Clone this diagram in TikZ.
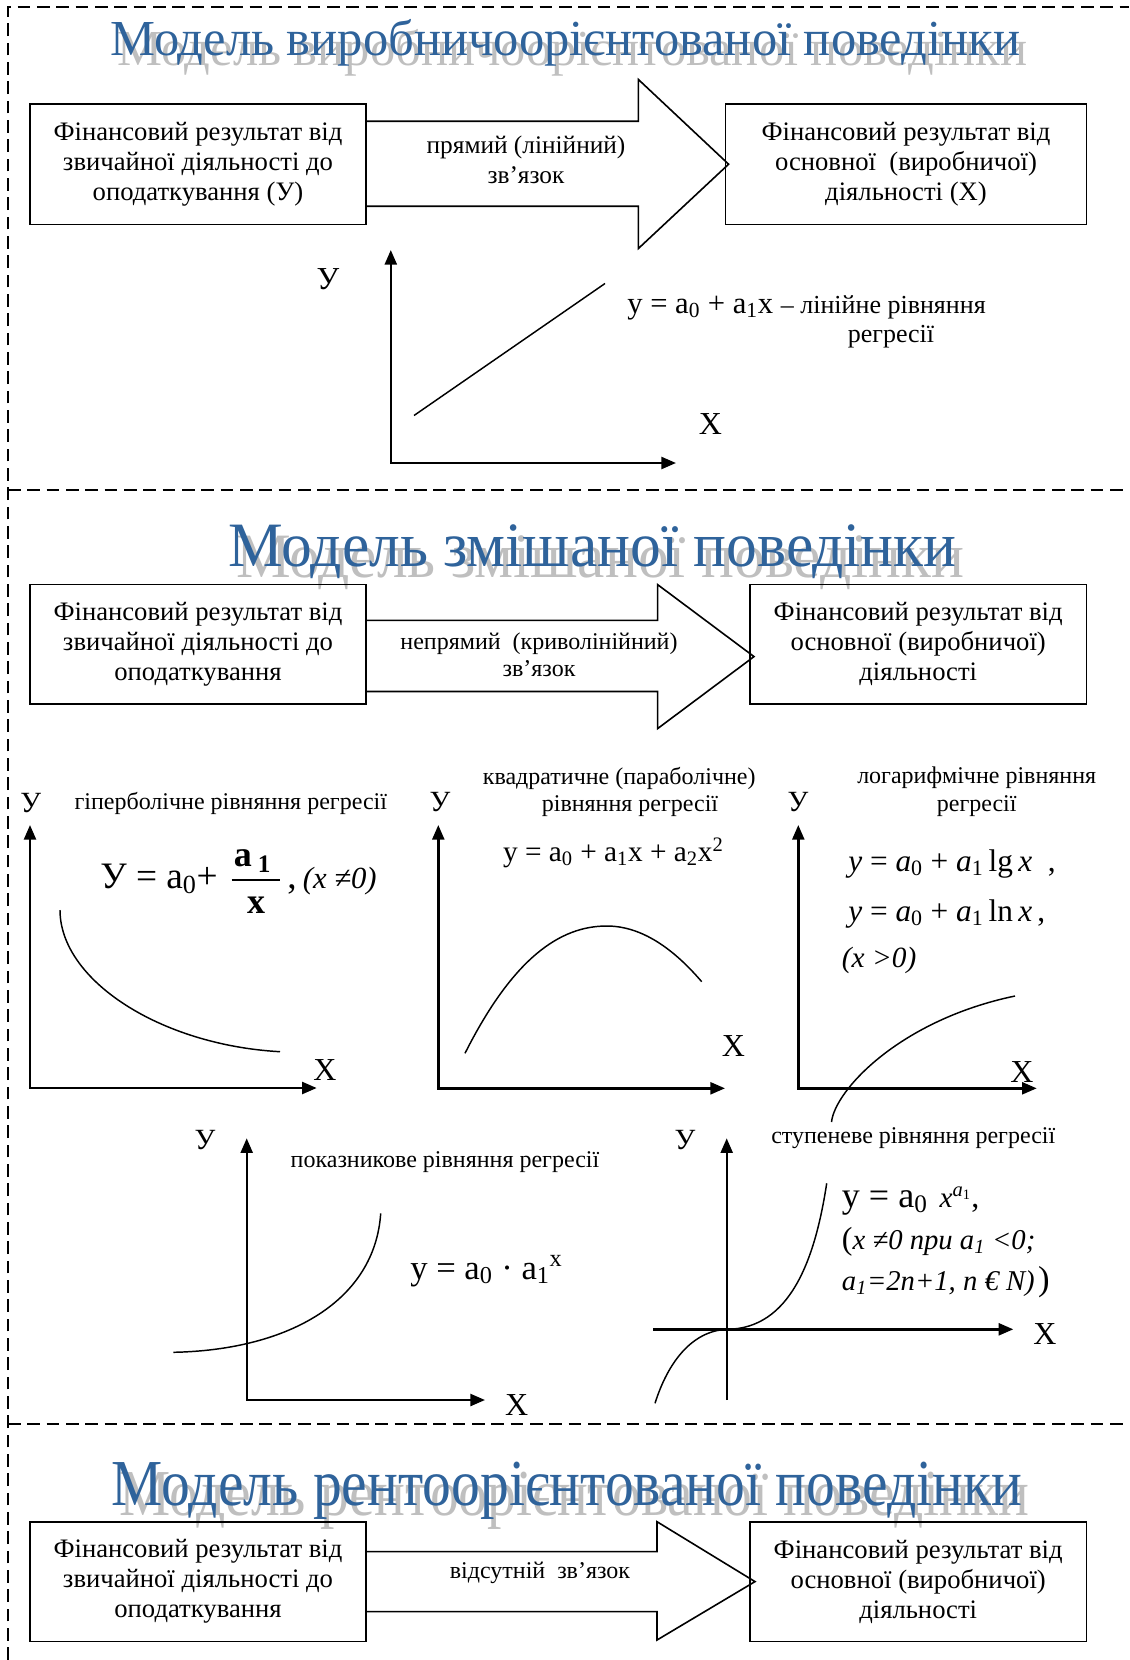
\documentclass[tikz,border=0pt]{standalone}
\usepackage{fontspec}
\setmainfont{Liberation Serif}
\usetikzlibrary{arrows.meta,calc}
\definecolor{tblue}{RGB}{47,99,155}
\newlength\titlew
\newcommand\titletext[3]{\settowidth\titlew{\fontsize{#2pt}{#2pt}\selectfont #3}%
  \pgfmathsetmacro\titlesx{#1*0.75/\titlew}%
  \scalebox{\titlesx}[1]{\fontsize{#2pt}{#2pt}\selectfont #3}}
\newcommand\fsz[2]{\fontsize{#1pt}{#2pt}\selectfont}
\begin{document}
\begin{tikzpicture}[x=0.75pt,y=-0.75pt,
  box/.style={draw,line width=1.3pt,inner sep=0pt,align=center,font=\fsz{20}{22.5}},
  blockarrow/.style={draw,line width=1.2pt,line join=miter},
  axes/.style={line width=1.8pt,{Triangle[length=11pt,width=9pt]}-{Triangle[length=11pt,width=9pt]}},
  axis1/.style={line width=1.8pt,-{Triangle[length=11pt,width=9pt]}},
  curve/.style={line width=1.1pt},
  sep/.style={line width=1.3pt,dash pattern=on 9.5pt off 5pt},
  lbl/.style={inner sep=0pt,font=\fsz{18}{21},align=center},
  axl/.style={inner sep=0pt,font=\fsz{23}{23}},
  ttl/.style={inner sep=0pt,anchor=base west,text=tblue},
  shd/.style={inner sep=0pt,anchor=base west,text=gray!50},
  fml/.style={inner sep=0pt,anchor=base west}
  ]
\useasboundingbox (0,0) rectangle (1129,1660);

% frame and separators
\draw[sep] (8,1660) -- (8,7) -- (1129,7);
\draw[sep] (8,490) -- (1129,490);
\draw[sep] (8,1424) -- (1129,1424);

% titles (grey shadow, then blue text)
\node[shd] at (117,65) {\titletext{910}{37.8}{Модель виробничоорієнтованої поведінки}};
\node[ttl] (T1) at (110,55) {\titletext{910}{37.8}{Модель виробничоорієнтованої поведінки}};
\node[shd] at (236,577) {\titletext{728}{47.4}{Модель змішаної поведінки}};
\node[ttl] (T2) at (228.3,566.7) {\titletext{728}{47.4}{Модель змішаної поведінки}};
\node[shd] at (119,1515) {\titletext{910}{49.2}{Модель рентоорієнтованої поведінки}};
\node[ttl] (T3) at (111.7,1505) {\titletext{910}{49.2}{Модель рентоорієнтованої поведінки}};

% ---------- section 1
\node[box,minimum width=252.5pt,minimum height=90.5pt] (L1) at (198,164.2)
  {Фінансовий результат від\\звичайної діяльності до\\оподаткування (У)};
\node[box,minimum width=270.8pt,minimum height=90.5pt] (R1) at (906,164.2)
  {Фінансовий результат від\\основної~~(виробничої)\\діяльності (Х)};
\draw[blockarrow] ($(L1.east)+(0,-43)$) -- (638.4,121.2) -- (638.4,79.5) -- ($(R1.west)+(4,0)$)
  -- (638.4,248.5) -- (638.4,206.2) -- ($(L1.east)+(0,42)$);
\node[lbl,font=\fsz{19}{22.5}] (A1) at (526,160) {прямий (лінійний)\\зв’язок};

\draw[axes] (390.8,250) -- (390.8,463) -- (676,463);
\draw[curve] (414,415.5) -- (605,283.5);
\node[axl,font=\fsz{24}{24}] (Y1) at (328,279) {У};
\node[axl,font=\fsz{24}{24}] (X1) at (710.5,424) {Х};
\node[fml] (F1) at (627,313) {\fsz{23}{23}y = a\textsubscript{0} + a\textsubscript{1}x \fsz{19.5}{22}– лінійне рівняння};
\node[lbl,font=\fsz{19.5}{22}] (F1b) at (891,337) {регресії};

% ---------- section 2
\node[box,minimum width=252.5pt,minimum height=89.7pt] (L2) at (198,644.4)
  {Фінансовий результат від\\звичайної діяльності до\\оподаткування};
\node[box,minimum width=252.5pt,minimum height=89.7pt] (R2) at (918.2,644.4)
  {Фінансовий результат від\\основної (виробничої)\\діяльності};
\draw[blockarrow] ($(L2.east)+(0,-24)$) -- (657.6,620.4) -- (657.6,584.6) -- ($(R2.west)+(5,12.2)$)
  -- (657.6,728.6) -- (657.6,691.5) -- ($(L2.east)+(0,47.1)$);
\node[lbl,font=\fsz{18}{20.6}] (A2) at (539,655) {непрямий~~(криволінійний)\\зв’язок};

% hyperbola
\draw[axes] (30,825) -- (30,1088) -- (316.7,1088);
\draw[curve] (60,910) .. controls (60,980) and (160,1045) .. (280,1051.7);
\node[axl,font=\fsz{22}{22}] (Yh) at (30.8,803) {У};
\node[axl,font=\fsz{24}{24}] (Xh) at (325,1070) {Х};
\node[lbl] (Lh) at (230.8,803.3) {гіперболічне рівняння регресії};
\node[fml,font=\fsz{28}{28}] (Fh) at (100,888) {У = a\textsubscript{0}+};
\node[inner sep=0pt,font=\fsz{27}{27}] (Fhn) at (252.5,861) {\textbf{a}\,\textsubscript{\textbf{1}}};
\draw[line width=1.2pt] (231.7,880) -- (280,880);
\node[inner sep=0pt,font=\bfseries\fsz{27}{27}] (Fhd) at (256,905) {x};
\node[fml] (Fhc) at (287,888) {\fsz{28}{28},\,\fsz{23}{23}\itshape (x ≠0)};

% parabola
\draw[axes] (438.3,825) -- (438.3,1088.3) -- (725,1088.3);
\draw[curve] (465,1053.3) .. controls (513,958) and (560,926) .. (606.7,926)
  .. controls (638.4,926) and (670,944.6) .. (701.7,981.7);
\node[axl,font=\fsz{22}{22}] (Yq) at (440,802) {У};
\node[axl,font=\fsz{24}{24}] (Xq) at (733.3,1046) {Х};
\node[lbl] (Lq1) at (619.2,778) {квадратичне (параболічне)};
\node[lbl] (Lq2) at (630,806) {рівняння регресії};
\node[inner sep=0pt,font=\fsz{22}{22}] (Fq) at (613.3,853) {y = a\textsubscript{0} + a\textsubscript{1}x + a\textsubscript{2}x\textsuperscript{2}};

% logarithm
\draw[axes] (798.3,825) -- (798.3,1088.3) -- (1036.7,1088.3);
\draw[curve] (831.5,1122) .. controls (835,1090) and (900,1020) .. (1015,996);
\node[axl,font=\fsz{22}{22}] (Yl) at (798,802) {У};
\node[axl,font=\fsz{24}{24}] (Xl) at (1022,1071.7) {Х};
\node[lbl] (Ll1) at (976.7,778) {логарифмічне рівняння};
\node[lbl] (Ll2) at (976.7,806) {регресії};
\node[fml,font=\fsz{23.5}{23.5}] (Fl1) at (848,871) {\textit{y} = \textit{a}\textsubscript{0} + \textit{a}\textsubscript{1}\,lg\,\textit{x}~~,};
\node[fml,font=\fsz{23.5}{23.5}] (Fl2) at (848,921) {\textit{y} = \textit{a}\textsubscript{0} + \textit{a}\textsubscript{1}\,ln\,\textit{x}\,,};
\node[fml,font=\fsz{22}{22}\itshape] (Fl3) at (841.7,967) {(x >0)};

% exponential
\draw[axes] (246.7,1138.3) -- (246.7,1400) -- (485,1400);
\draw[curve] (173.3,1352.3) .. controls (290,1350) and (375,1300) .. (380.7,1213.3);
\node[axl,font=\fsz{22}{22}] (Ye) at (205,1140) {У};
\node[axl,font=\fsz{24}{24}] (Xe) at (516.7,1405) {Х};
\node[lbl] (Le) at (445,1161.7) {показникове рівняння регресії};
\node[fml,font=\fsz{26}{26}] (Fe) at (410,1279) {y = a\textsubscript{0} · a\textsubscript{1}\textsuperscript{x}};

% power
\draw[axis1] (653.3,1329.3) -- (1013.3,1329.3);
\draw[axis1] (726.7,1400) -- (726.7,1138.3);
\draw[curve] (655,1403.3) .. controls (668,1362) and (692,1331) .. (726.7,1329.3)
  .. controls (790,1329) and (815,1260) .. (826.7,1183.3);
\node[axl,font=\fsz{22}{22}] (Yp) at (685,1140) {У};
\node[axl,font=\fsz{24}{24}] (Xp) at (1045,1334) {Х};
\node[lbl] (Lp) at (913.3,1138.3) {ступеневе рівняння регресії};
\node[fml] (Fp1) at (841.7,1207) {\fsz{27}{27}y = a\textsubscript{0}\,\,{\fsz{22}{22}\textit{x}\textsuperscript{\textit{a}\textsubscript{1}}}\fsz{24}{24},};
\node[fml] (Fp2) at (841.7,1249) {{\fsz{24}{24}(}{\fsz{21.5}{21.5}\itshape x ≠0 при a\textsubscript{1} <0;}};
\node[fml] (Fp3) at (841.7,1290) {{\fsz{21.5}{21.5}\itshape a\textsubscript{1}=2n+1, n € N)}~{\fsz{26}{26})}};

% ---------- section 3
\node[box,minimum width=252.5pt,minimum height=89.8pt] (L3) at (198,1581.6)
  {Фінансовий результат від\\звичайної діяльності до\\оподаткування};
\node[box,minimum width=252.5pt,minimum height=89.8pt] (R3) at (918.2,1581.6)
  {Фінансовий результат від\\основної (виробничої)\\діяльності};
\draw[blockarrow] ($(L3.east)+(0,-30)$) -- (657,1551.6) -- (657,1521.7) -- ($(R3.west)+(6,0)$)
  -- (657,1640) -- (657,1611.6) -- ($(L3.east)+(0,30)$);
\node[lbl,font=\fsz{18}{21}] (A3) at (540,1573.3) {відсутній~~зв’язок};
\end{tikzpicture}
\end{document}
